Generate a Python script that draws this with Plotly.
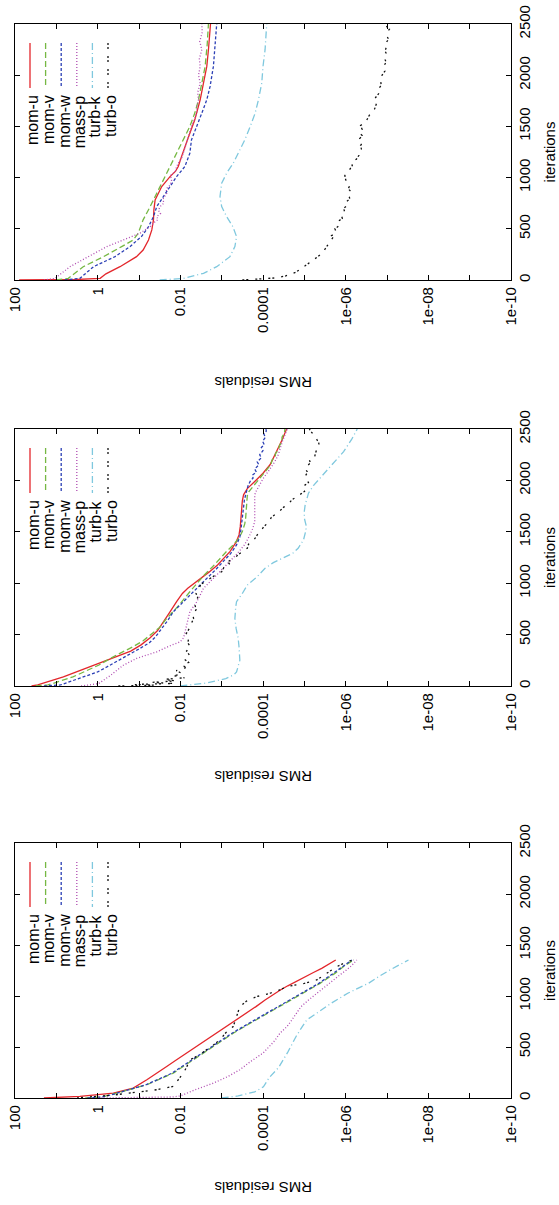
import plotly.graph_objects as go

W, H = 559, 1205
FONT = "Liberation Sans, Arial, sans-serif"

SERIES = ["mom-u", "mom-v", "mom-w", "mass-p", "turb-k", "turb-o"]
COLORS = ["#e3262b", "#76b843", "#2b3fb5", "#b04db2", "#7fc8de", "#111111"]
DASHES = ["solid", "6px,3px", "3px,2px", "1px,2px", "7px,3px,1px,3px", "2px,2px,2px,7px"]

LOG_TICK_EXP = [2, 1, 0, -1, -2, -3, -4, -5, -6, -7, -8, -9, -10]
LOG_TICK_TEXT = ["100", "", "1", "", "0.01", "", "0.0001", "", "1e-06", "", "1e-08", "", "1e-10"]
ITER_TICKS = [0, 500, 1000, 1500, 2000, 2500]

# [iteration, log10(RMS residual)] for each run
A_MOM_U = [[0, 1.9], [5, 0.5], [16, -0.06], [60, -0.2], [130, -0.54], [228, -0.94], [293, -1.1],
           [391, -1.23], [489, -1.31], [587, -1.35], [685, -1.36], [782, -1.39], [913, -1.55],
           [1010, -1.75], [1060, -1.88], [1108, -1.95], [1206, -2.03], [1304, -2.11], [1434, -2.23],
           [1564, -2.35], [1760, -2.48], [1923, -2.56], [2086, -2.64], [2249, -2.68], [2500, -2.73]]
A_MOM_V = [[0, 1.0], [16, 0.71], [130, 0.35], [228, -0.14], [326, -0.58], [391, -0.86], [456, -0.98],
           [587, -1.1], [717, -1.27], [847, -1.43], [978, -1.59], [1108, -1.75], [1238, -1.91],
           [1369, -2.07], [1499, -2.23], [1630, -2.35], [1760, -2.44], [1923, -2.52], [2086, -2.6],
           [2300, -2.65], [2500, -2.68]]
A_MOM_W = [[0, 0.8], [16, 0.43], [130, 0.1], [228, -0.42], [326, -0.78], [424, -1.06], [521, -1.23],
           [619, -1.35], [717, -1.43], [815, -1.59], [913, -1.75], [1010, -1.91], [1108, -2.11],
           [1238, -2.23], [1369, -2.27], [1499, -2.4], [1630, -2.52], [1760, -2.64], [1890, -2.72],
           [2086, -2.8], [2347, -2.84], [2500, -2.88]]
A_MASS_P = [[0, 1.3], [16, 1.03], [130, 0.67], [228, 0.23], [326, -0.22], [391, -0.62], [456, -1.02],
            [521, -1.27], [560, -1.36], [590, -1.46], [619, -1.43], [650, -1.52], [680, -1.47],
            [717, -1.51], [750, -1.6], [790, -1.58], [847, -1.67], [890, -1.66], [930, -1.76],
            [978, -1.79], [1020, -1.76], [1060, -1.88], [1108, -1.91], [1160, -1.98], [1200, -2.04],
            [1238, -2.07], [1300, -2.12], [1369, -2.19], [1430, -2.22], [1499, -2.27], [1560, -2.33],
            [1630, -2.4], [1700, -2.4], [1760, -2.44], [1830, -2.42], [1923, -2.48], [2000, -2.44],
            [2086, -2.48], [2160, -2.46], [2249, -2.52], [2330, -2.47], [2420, -2.53], [2500, -2.52]]
A_TURB_K = [[0, -1.5], [16, -2.07], [65, -2.56], [130, -2.88], [228, -3.2], [326, -3.32], [424, -3.36],
            [521, -3.27], [619, -3.12], [717, -3.0], [815, -2.96], [945, -3.0], [1043, -3.12],
            [1141, -3.28], [1238, -3.4], [1369, -3.56], [1499, -3.69], [1630, -3.81], [1760, -3.89],
            [1923, -3.97], [2086, -4.0], [2249, -4.05], [2500, -4.09]]
A_TURB_O = [[0, -3.5], [10, -4.0], [20, -4.3], [40, -4.55], [75, -4.79], [110, -4.92], [140, -5.03],
            [190, -5.2], [238, -5.36], [290, -5.48], [336, -5.56], [380, -5.62], [420, -5.7],
            [434, -5.66], [460, -5.78], [500, -5.74], [531, -5.84], [570, -5.8], [600, -5.92],
            [629, -5.9], [660, -5.98], [700, -5.95], [727, -6.04], [760, -6.0], [790, -6.1],
            [825, -6.08], [860, -6.14], [890, -6.06], [922, -6.1], [950, -6.04], [980, -6.0],
            [1020, -5.98], [1050, -6.06], [1080, -6.1], [1118, -6.16], [1150, -6.14], [1180, -6.26],
            [1216, -6.32], [1250, -6.3], [1280, -6.38], [1313, -6.36], [1350, -6.42], [1380, -6.34],
            [1411, -6.4], [1440, -6.32], [1470, -6.4], [1509, -6.36], [1540, -6.48], [1570, -6.52],
            [1607, -6.57], [1640, -6.64], [1670, -6.7], [1705, -6.73], [1740, -6.76], [1770, -6.7],
            [1802, -6.77], [1840, -6.84], [1870, -6.8], [1900, -6.86], [1932, -6.85], [1970, -6.9],
            [2000, -6.88], [2040, -6.95], [2070, -6.9], [2096, -6.93], [2130, -6.98], [2160, -6.94],
            [2200, -7.0], [2230, -6.96], [2259, -6.97], [2290, -7.02], [2320, -6.98], [2350, -7.04],
            [2380, -7.0], [2422, -7.01], [2450, -7.06], [2480, -6.98], [2500, -7.01]]

B_MOM_U = [[0, 1.6], [10, 1.45], [88, 0.83], [185, 0.2], [240, -0.2], [290, -0.5], [340, -0.8],
           [400, -1.05], [470, -1.27], [540, -1.45], [620, -1.59], [720, -1.75], [820, -1.91],
           [900, -2.05], [950, -2.18], [1000, -2.35], [1047, -2.5], [1110, -2.7], [1177, -2.9],
           [1240, -3.05], [1307, -3.2], [1400, -3.35], [1470, -3.42], [1550, -3.45], [1700, -3.47],
           [1800, -3.5], [1860, -3.53], [1920, -3.62], [1990, -3.8], [2070, -4.0], [2152, -4.17],
           [2282, -4.33], [2400, -4.47], [2500, -4.57]]
B_MOM_V = [[0, 1.5], [10, 1.2], [88, 0.6], [150, 0.25], [202, -0.02], [300, -0.45], [381, -0.85],
           [440, -1.1], [494, -1.27], [570, -1.5], [657, -1.67], [787, -1.97], [917, -2.23],
           [1000, -2.4], [1080, -2.58], [1160, -2.78], [1242, -2.96], [1310, -3.12], [1372, -3.28],
           [1440, -3.42], [1502, -3.5], [1580, -3.56], [1632, -3.58], [1720, -3.59], [1795, -3.6],
           [1850, -3.62], [1892, -3.66], [1960, -3.8], [2022, -3.93], [2090, -4.08], [2152, -4.19],
           [2200, -4.22], [2230, -4.3], [2260, -4.3], [2300, -4.38], [2340, -4.4], [2380, -4.46],
           [2420, -4.46], [2460, -4.52], [2500, -4.53]]
B_MOM_W = [[0, 1.3], [10, 0.9], [88, 0.35], [137, 0.0], [185, -0.22], [267, -0.6], [365, -1.02],
           [420, -1.25], [478, -1.4], [560, -1.55], [640, -1.7], [722, -1.83], [800, -2.02],
           [885, -2.23], [960, -2.42], [1047, -2.64], [1130, -2.85], [1210, -3.04], [1290, -3.22],
           [1372, -3.36], [1450, -3.44], [1534, -3.47], [1630, -3.5], [1730, -3.52], [1810, -3.55],
           [1892, -3.6], [1950, -3.64], [2000, -3.7], [2022, -3.76], [2050, -3.74], [2080, -3.84],
           [2110, -3.8], [2152, -3.9], [2180, -3.86], [2220, -3.96], [2250, -3.92], [2290, -4.0],
           [2320, -3.96], [2347, -4.03], [2380, -3.99], [2420, -4.06], [2450, -4.02], [2480, -4.08],
           [2500, -4.07]]
B_MASS_P = [[0, 0.4], [23, -0.02], [100, -0.3], [202, -0.62], [270, -0.95], [332, -1.43], [400, -1.8],
            [430, -2.0], [470, -2.08], [530, -2.12], [592, -2.15], [722, -2.23], [820, -2.4],
            [950, -2.56], [1080, -2.88], [1210, -3.2], [1290, -3.38], [1372, -3.55], [1450, -3.66],
            [1530, -3.75], [1600, -3.8], [1697, -3.8], [1800, -3.79], [1860, -3.8], [1900, -3.84],
            [1960, -3.92], [2022, -4.01], [2100, -4.15], [2185, -4.29], [2250, -4.37], [2380, -4.47],
            [2500, -4.59]]
B_TURB_K = [[0, -2.0], [6, -2.15], [29, -2.64], [72, -3.1], [110, -3.3], [137, -3.36], [250, -3.44],
            [380, -3.42], [462, -3.4], [560, -3.35], [657, -3.32], [770, -3.34], [820, -3.36],
            [900, -3.5], [982, -3.62], [1060, -3.85], [1145, -4.05], [1200, -4.25], [1242, -4.45],
            [1291, -4.72], [1340, -4.85], [1421, -4.98], [1500, -5.03], [1551, -5.05], [1632, -5.0],
            [1700, -5.0], [1762, -5.02], [1876, -5.1], [1950, -5.22], [2038, -5.42], [2168, -5.72],
            [2280, -5.95], [2396, -6.14], [2500, -6.28]]
B_TURB_O = [[0, -0.5], [8, -1.4], [15, -0.9], [25, -1.8], [35, -1.3], [50, -1.9], [65, -1.6],
            [80, -2.1], [100, -1.85], [120, -2.05], [150, -1.9], [180, -2.15], [200, -2.05],
            [230, -2.2], [260, -2.1], [300, -2.22], [340, -2.15], [380, -2.25], [420, -2.18],
            [460, -2.2], [495, -2.12], [540, -2.2], [580, -2.25], [620, -2.28], [657, -2.32],
            [700, -2.3], [740, -2.38], [780, -2.36], [820, -2.4], [860, -2.42], [900, -2.38],
            [950, -2.45], [990, -2.5], [1020, -2.62], [1047, -2.72], [1080, -2.85], [1112, -3.0],
            [1150, -3.05], [1180, -3.2], [1210, -3.15], [1242, -3.3], [1280, -3.4], [1310, -3.5],
            [1340, -3.62], [1380, -3.65], [1420, -3.78], [1470, -3.86], [1510, -3.95], [1550, -4.02],
            [1600, -4.15], [1640, -4.2], [1700, -4.4], [1740, -4.5], [1762, -4.6], [1790, -4.65],
            [1811, -4.7], [1850, -4.85], [1892, -5.0], [1920, -5.06], [1950, -5.0], [1980, -5.1],
            [2006, -5.07], [2040, -5.02], [2080, -5.08], [2110, -5.02], [2136, -5.05], [2170, -5.15],
            [2200, -5.12], [2230, -5.25], [2266, -5.27], [2300, -5.3], [2330, -5.36], [2363, -5.35],
            [2400, -5.3], [2430, -5.25], [2461, -5.2], [2480, -5.15], [2500, -5.12]]

C_MOM_U = [[0, 1.3], [6, 0.83], [16, 0.43], [48, -0.38], [97, -0.86], [179, -1.19], [240, -1.43],
           [309, -1.67], [375, -1.91], [440, -2.15], [505, -2.4], [570, -2.64], [635, -2.88],
           [700, -3.12], [766, -3.36], [831, -3.6], [896, -3.83], [961, -4.05], [1010, -4.22],
           [1059, -4.42], [1100, -4.6], [1140, -4.78], [1190, -5.02], [1230, -5.22], [1271, -5.42],
           [1310, -5.6], [1353, -5.76]]
C_MOM_V = [[0, 0.3], [10, -0.1], [30, -0.3], [65, -0.6], [130, -1.19], [244, -1.83], [374, -2.31],
           [505, -2.8], [635, -3.28], [730, -3.68], [831, -4.12], [929, -4.55], [1027, -4.98],
           [1124, -5.38], [1222, -5.74], [1304, -6.0], [1353, -6.19]]
C_MOM_W = [[0, 0.25], [10, -0.12], [30, -0.32], [65, -0.62], [130, -1.17], [244, -1.8], [374, -2.29],
           [505, -2.77], [635, -3.25], [730, -3.65], [831, -4.09], [929, -4.52], [1027, -4.95],
           [1124, -5.35], [1222, -5.7], [1304, -5.97], [1353, -6.15]]
C_MASS_P = [[0, 0.0], [3, -1.0], [10, -1.8], [20, -2.0], [80, -2.35], [146, -2.8], [210, -3.15],
            [277, -3.44], [358, -3.7], [440, -4.0], [500, -4.15], [560, -4.28], [635, -4.41],
            [700, -4.58], [766, -4.7], [830, -4.8], [896, -4.92], [960, -5.1], [1027, -5.3],
            [1090, -5.5], [1157, -5.7], [1210, -5.87], [1255, -6.02], [1300, -6.15], [1353, -6.27]]
C_TURB_K = [[0, -3.0], [20, -3.4], [60, -3.8], [110, -4.01], [200, -4.15], [300, -4.38], [450, -4.6],
            [603, -4.8], [700, -4.95], [766, -5.06], [831, -5.3], [929, -5.65], [1027, -6.05],
            [1124, -6.55], [1190, -6.8], [1255, -7.07], [1353, -7.52]]
C_TURB_O = [[0, 0.5], [16, 0.0], [30, -0.4], [50, -0.8], [65, -1.1], [81, -1.43], [114, -1.83],
            [150, -1.9], [180, -1.95], [244, -2.07], [300, -2.15], [340, -2.2], [374, -2.23],
            [420, -2.45], [472, -2.64], [520, -2.8], [570, -2.96], [640, -3.1], [700, -3.28],
            [750, -3.32], [800, -3.35], [850, -3.4], [896, -3.44], [950, -3.6], [994, -3.85],
            [1027, -4.17], [1059, -4.41], [1092, -4.57], [1124, -5.0], [1157, -5.3], [1190, -5.42],
            [1222, -5.54], [1255, -5.66], [1287, -5.78], [1310, -5.9], [1336, -6.02], [1353, -6.19]]

RUNS = [
    [A_MOM_U, A_MOM_V, A_MOM_W, A_MASS_P, A_TURB_K, A_TURB_O],
    [B_MOM_U, B_MOM_V, B_MOM_W, B_MASS_P, B_TURB_K, B_TURB_O],
    [C_MOM_U, C_MOM_V, C_MOM_W, C_MASS_P, C_TURB_K, C_TURB_O],
]

# pixel geometry of each panel (top, bottom), the shared left/right edges,
# and the vertical position of each upside-down residual axis caption
PANEL_Y = [(24, 280), (429, 686), (843, 1098)]
PANEL_X = (15, 511)
CAPTION_Y = [383, 777, 1188]


def px(x):
    return x / W


def py(y):
    return 1 - y / H


fig = go.Figure()
shapes = []
annotations = []
tick_font = dict(family=FONT, size=15, color="black")
key_font = dict(family=FONT, size=16, color="black")

for p, (series_set, (top, bot), cap_y) in enumerate(zip(RUNS, PANEL_Y, CAPTION_Y)):
    n = p + 1
    xa = "x" if n == 1 else f"x{n}"
    ya = "y" if n == 1 else f"y{n}"
    for name, pts, col, dash in zip(SERIES, series_set, COLORS, DASHES):
        fig.add_trace(go.Scatter(
            x=[10.0 ** v for _, v in pts], y=[it for it, _ in pts],
            mode="lines", name=name, showlegend=False,
            line=dict(color=col, width=1.3, dash=dash),
            xaxis=xa, yaxis=ya,
        ))

    fig.layout[f"xaxis{n if n > 1 else ''}"] = dict(
        domain=[px(PANEL_X[0]), px(PANEL_X[1])], anchor=ya, type="log",
        range=[2, -10], tickvals=[10.0 ** e for e in LOG_TICK_EXP], ticktext=LOG_TICK_TEXT,
        tickangle=-90, ticks="inside", ticklen=5, tickwidth=1, tickcolor="black",
        showline=True, linecolor="black", linewidth=1.3, mirror="ticks",
        showgrid=False, zeroline=False, tickfont=tick_font, automargin=False,
    )
    fig.layout[f"yaxis{n if n > 1 else ''}"] = dict(
        domain=[py(bot), py(top)], anchor=xa, range=[0, 2500], tickvals=ITER_TICKS,
        side="right", tickangle=-90, ticks="inside", ticklen=5, tickwidth=1, tickcolor="black",
        showline=True, linecolor="black", linewidth=1.3, mirror="ticks",
        showgrid=False, zeroline=False, tickfont=tick_font, automargin=False,
        title=dict(text="iterations", font=tick_font, standoff=12),
    )

    annotations.append(dict(
        text="RMS residuals", textangle=180, showarrow=False,
        x=px((PANEL_X[0] + PANEL_X[1]) / 2), y=py(cap_y), xref="paper", yref="paper",
        xanchor="center", yanchor="middle", font=tick_font,
    ))

    # key: sample strokes above rotated labels, one column per series
    for k, (name, col, dash) in enumerate(zip(SERIES, COLORS, DASHES)):
        sx = PANEL_X[0] + 15 + k * 15.6
        shapes.append(dict(
            type="line", xref="paper", yref="paper",
            x0=px(sx), x1=px(sx), y0=py(top + 19), y1=py(top + 64),
            line=dict(color=col, width=1.3, dash=dash),
        ))
        annotations.append(dict(
            text=name, textangle=-90, showarrow=False,
            x=px(sx + 3), y=py(top + 69), xref="paper", yref="paper",
            xanchor="center", yanchor="top", font=key_font,
        ))

fig.update_layout(
    width=W, height=H, margin=dict(l=0, r=0, t=0, b=0),
    paper_bgcolor="white", plot_bgcolor="white",
    shapes=shapes, annotations=annotations, showlegend=False,
)

fig.write_html("out.html")
